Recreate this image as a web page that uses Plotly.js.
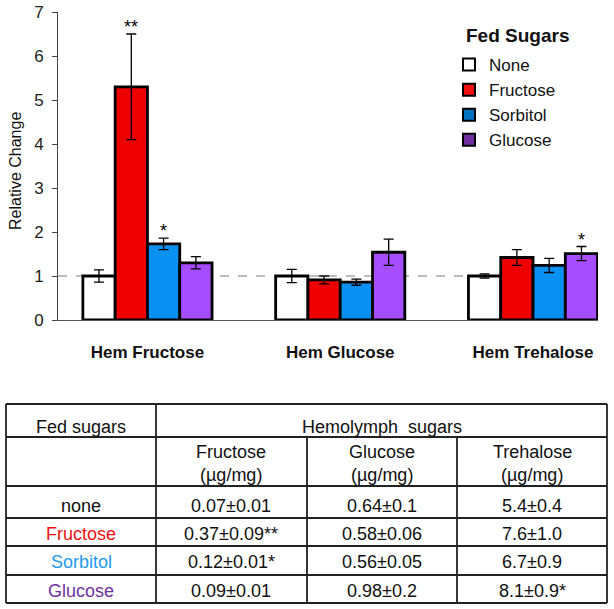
<!DOCTYPE html>
<html>
<head>
    <script src="https://cdn.plot.ly/plotly-3.0.1.min.js"></script>
    <style>
        body { margin: 0; padding: 0; background: #fff; }
    </style>
</head>
<body>
    <div id="myDiv" style="width: 614px; height: 609px;"></div>
    <script>
        // chart data
        var categories = ['Hem Fructose', 'Hem Glucose', 'Hem Trehalose'];
        var seriesNames = ['None', 'Fructose', 'Sorbitol', 'Glucose'];
        var noneVals = [1.0, 1.0, 1.0];
        var noneErr = [0.14, 0.15, 0.05];
        var fructoseVals = [5.3, 0.91, 1.42];
        var fructoseErr = [1.2, 0.09, 0.18];
        var sorbitolVals = [1.73, 0.86, 1.24];
        var sorbitolErr = [0.13, 0.07, 0.16];
        var glucoseVals = [1.3, 1.54, 1.51];
        var glucoseErr = [0.14, 0.3, 0.16];

        // significance stars: category index, series index, text
        var starCat = [0, 0, 2];
        var starSeries = [1, 2, 3];
        var starText = ['**', '*', '*'];

        // table data
        var tableHeadTop = ['Fed sugars', 'Hemolymph\u00a0 sugars'];
        var tableCols = ['Fructose', 'Glucose', 'Trehalose'];
        var tableUnit = '(\u00b5g/mg)';
        var fedSugars = ['none', 'Fructose', 'Sorbitol', 'Glucose'];
        var hemFructose = ['0.07\u00b10.01', '0.37\u00b10.09**', '0.12\u00b10.01*', '0.09\u00b10.01'];
        var hemGlucose = ['0.64\u00b10.1', '0.58\u00b10.06', '0.56\u00b10.05', '0.98\u00b10.2'];
        var hemTrehalose = ['5.4\u00b10.4', '7.6\u00b11.0', '6.7\u00b10.9', '8.1\u00b10.9*'];

        var barColors = ['#FFFFFF', '#EE0000', '#0A90F0', '#A64DFF'];
        var legendColors = ['#FFFFFF', '#EE1111', '#0070C0', '#7030A0'];
        var tableLabelColors = ['#111111', '#EE1111', '#1E9BEF', '#7030A0'];

        var FONT = 'Arial, "Liberation Sans", sans-serif';
        var W = 614, H = 609;
        // pixel -> paper (margins are 0)
        function pX(x) { return x / W; }
        function pY(y) { return 1 - y / H; }

        var vals = [noneVals, fructoseVals, sorbitolVals, glucoseVals];
        var errs = [noneErr, fructoseErr, sorbitolErr, glucoseErr];

        var bargap = 0.33;
        var barW = (1 - bargap) / 4;

        var data = [];
        for (var i = 0; i < 4; i++) {
            data.push({
                type: 'bar',
                name: seriesNames[i],
                x: categories,
                y: vals[i],
                marker: { color: barColors[i], line: { color: '#000', width: 2.8 } },
                error_y: { type: 'data', array: errs[i], visible: true, color: '#000', thickness: 1.3, width: 5 },
                showlegend: false,
                hoverinfo: 'skip'
            });
        }
        // legend swatches use darker colours in the original, so separate legend-only traces on a hidden axis
        for (var i = 0; i < 4; i++) {
            data.push({
                type: 'bar',
                name: seriesNames[i],
                x: [categories[0]],
                y: [null],
                xaxis: 'x2',
                yaxis: 'y2',
                marker: { color: legendColors[i], line: { color: '#000', width: 2 } },
                showlegend: true
            });
        }

        var annotations = [];
        for (var k = 0; k < starText.length; k++) {
            var s = starSeries[k], c = starCat[k];
            annotations.push({
                x: c + (s - 1.5) * barW,
                y: vals[s][c] + errs[s][c],
                xref: 'x', yref: 'y',
                text: starText[k],
                showarrow: false,
                yanchor: 'bottom',
                yshift: -5,
                font: { family: FONT, size: 18, color: '#000' }
            });
        }

        // axis title and legend title placed by hand
        annotations.push({
            x: pX(15), y: pY(171), xref: 'paper', yref: 'paper',
            text: 'Relative Change', textangle: -90, showarrow: false,
            xanchor: 'center', yanchor: 'middle',
            font: { family: FONT, size: 16, color: '#111' }
        });
        annotations.push({
            x: pX(464), y: pY(35), xref: 'paper', yref: 'paper',
            text: '<b>Fed Sugars</b>', showarrow: false,
            xanchor: 'left', yanchor: 'middle',
            font: { family: FONT, size: 19, color: '#111' }
        });

        // table text
        function cell(x, y, text, color) {
            annotations.push({
                x: pX(x), y: pY(y), xref: 'paper', yref: 'paper',
                text: text, showarrow: false,
                xanchor: 'center', yanchor: 'middle',
                font: { family: FONT, size: 18, color: color || '#111' }
            });
        }
        var colX = [81, 231, 382, 532];
        var rowY = [506, 534, 562, 591];
        cell(colX[0], 427, tableHeadTop[0]);
        cell(381.5, 427, tableHeadTop[1]);
        for (var j = 0; j < 3; j++) {
            cell(colX[j + 1], 452, tableCols[j]);
            cell(colX[j + 1], 475, tableUnit);
        }
        for (var r = 0; r < fedSugars.length; r++) {
            cell(colX[0], rowY[r], fedSugars[r], tableLabelColors[r]);
            cell(colX[1], rowY[r], hemFructose[r]);
            cell(colX[2], rowY[r], hemGlucose[r]);
            cell(colX[3], rowY[r], hemTrehalose[r]);
        }

        // table lines
        var shapes = [];
        function hline(y, x0, x1) {
            shapes.push({ type: 'line', xref: 'paper', yref: 'paper', x0: pX(x0), x1: pX(x1), y0: pY(y), y1: pY(y),
                line: { color: '#222', width: 1.8 } });
        }
        function vline(x, y0, y1) {
            shapes.push({ type: 'line', xref: 'paper', yref: 'paper', x0: pX(x), x1: pX(x), y0: pY(y0), y1: pY(y1),
                line: { color: '#222', width: 1.8 } });
        }
        var tL = 6, tR = 607, tT = 404, tB = 603;
        [tT, 437, 486, 518, 546, 575, tB].forEach(function (y) { hline(y, tL, tR); });
        vline(tL, tT, tB);
        vline(tR, tT, tB);
        vline(156, tT, tB);
        vline(307, 437, tB);
        vline(457, 437, tB);

        // dashed reference line at 1
        shapes.push({
            type: 'line', xref: 'paper', yref: 'y', x0: pX(58), x1: pX(598), y0: 1, y1: 1,
            line: { color: '#A6A6A6', width: 1.5, dash: 'dash' }, layer: 'below'
        });

        var layout = {
            width: W,
            height: H,
            margin: { l: 0, r: 0, t: 0, b: 0 },
            paper_bgcolor: '#fff',
            plot_bgcolor: 'rgba(0,0,0,0)',
            barmode: 'group',
            bargap: bargap,
            bargroupgap: 0,
            font: { family: FONT, color: '#111' },
            xaxis: {
                type: 'category',
                domain: [pX(58), pX(598)],
                range: [-0.464, 2.337],
                showline: true,
                linecolor: '#555',
                linewidth: 1,
                ticks: '',
                showgrid: false,
                zeroline: false,
                automargin: false,
                ticklabelstandoff: 17,
                tickfont: { family: FONT, size: 17, weight: 'bold', color: '#111' }
            },
            yaxis: {
                domain: [pY(320), pY(12)],
                range: [0, 7],
                dtick: 1,
                showline: true,
                linecolor: '#444',
                linewidth: 1,
                ticks: 'outside',
                ticklen: 5,
                tickcolor: '#444',
                ticklabelstandoff: 5,
                showgrid: false,
                zeroline: false,
                automargin: false,
                tickfont: { family: FONT, size: 17, color: '#222' }
            },
            xaxis2: { visible: false, domain: [0, 0.01], anchor: 'y2', fixedrange: true },
            yaxis2: { visible: false, domain: [0, 0.01], anchor: 'x2', range: [0, 1] },
            legend: {
                x: pX(449),
                y: pY(47),
                xanchor: 'left',
                yanchor: 'top',
                bgcolor: 'rgba(0,0,0,0)',
                font: { family: FONT, size: 17, color: '#111' },
                traceorder: 'normal'
            },
            annotations: annotations,
            shapes: shapes
        };

        var config = { displayModeBar: false, staticPlot: true };

        Plotly.newPlot('myDiv', data, layout, config);
    </script>
</body>
</html>
